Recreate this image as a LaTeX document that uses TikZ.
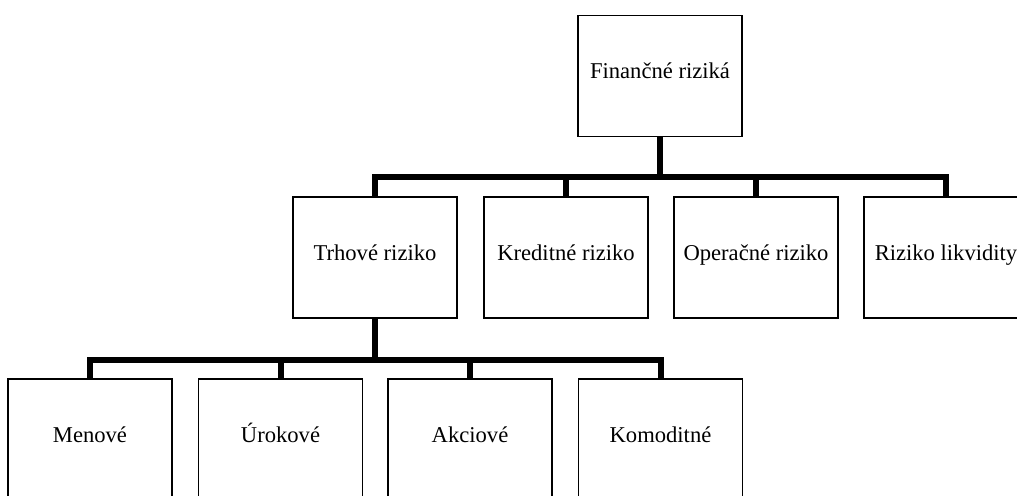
\documentclass[tikz,border=0pt]{standalone}
\usepackage{fontspec}
\setmainfont{Liberation Serif}
\usepackage{tikz}

\begin{document}
\begin{tikzpicture}[x = .5pt, y = -.5pt,
  box/.style = {draw, line width = .75pt, minimum width = 82pt, minimum height = 60.5pt, inner sep = 0pt, text height = 7pt, text depth = 4.5pt, font = \fontsize{11.3}{13}\selectfont},
  branch/.style = {line width = 3pt}]
  \useasboundingbox (0, 0) rectangle (1017, 495);
  \clip (0, 0) rectangle (1017, 495);
  % top level
  \node[box] (root) at (660, 76) {Finančné riziká};
  % second level
  \node[box] (trh) at (375, 257.5) {Trhové riziko};
  \node[box] (kred) at (566, 257.5) {Kreditné riziko};
  \node[box] (oper) at (756, 257.5) {Operačné riziko};
  \node[box] (likv) at (946, 257.5) {Riziko likvidity};
  % third level
  \node[box] (men) at (90, 439.5) {Menové};
  \node[box] (urok) at (280.5, 439.5) {Úrokové};
  \node[box] (akc) at (470, 439.5) {Akciové};
  \node[box] (kom) at (660.5, 439.5) {Komoditné};
  % connectors
  \foreach \c in {trh, kred, oper, likv}
    \draw [branch] (root.south) -- ++(0, 40) -| (\c.north);
  \foreach \c in {men, urok, akc, kom}
    \draw [branch] (trh.south) -- ++(0, 41) -| (\c.north);
\end{tikzpicture}
\end{document}
